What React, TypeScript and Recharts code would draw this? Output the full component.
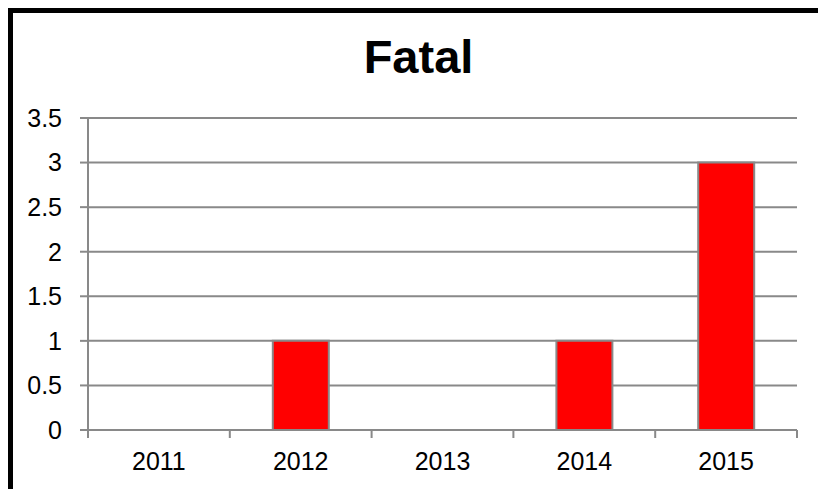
import React from 'react';
import { BarChart, Bar, XAxis, YAxis, CartesianGrid } from 'recharts';

const years = ['2011', '2012', '2013', '2014', '2015'];
const fatalValues = [0, 1, 0, 1, 3];
const yTicks = [0, 0.5, 1, 1.5, 2, 2.5, 3, 3.5];
const title = 'Fatal';

const data = years.map((year, i) => ({ year, fatal: fatalValues[i] }));

const FONT = '"Liberation Sans", Arial, sans-serif';
const GRAY = '#898989';

const CategoryTick = (props: any) => {
  const { x, y, payload, index, visibleTicksCount } = props;
  const half = payload && typeof payload.offset === 'number' && payload.offset > 0 ? payload.offset : 70.9;
  const axisY = y - 22;
  const isLast = index === (visibleTicksCount ?? years.length) - 1;
  return (
    <g>
      <line x1={x - half} x2={x - half} y1={axisY} y2={axisY + 8} stroke={GRAY} strokeWidth={2} />
      {isLast && <line x1={x + half} x2={x + half} y1={axisY} y2={axisY + 8} stroke={GRAY} strokeWidth={2} />}
      <text x={x} y={y} dy="0.71em" textAnchor="middle" fill="#000" fontSize={25} fontFamily={FONT}>
        {payload.value}
      </text>
    </g>
  );
};

export default function App() {
  return (
    <div style={{ position: 'fixed', left: 0, top: 0, width: 818, height: 489, overflow: 'hidden', background: '#fff' }}>
      <div
        style={{
          position: 'absolute',
          left: 8,
          top: 8,
          width: 840,
          height: 520,
          border: '5px solid #000',
          boxSizing: 'border-box',
        }}
      />
      <div style={{ position: 'absolute', left: 0, top: 0 }}>
        <BarChart
          width={818}
          height={489}
          data={data}
          margin={{ top: 118, right: 21, left: 0, bottom: 0 }}
          barSize={56}
        >
          <CartesianGrid vertical={false} stroke={GRAY} strokeWidth={2} />
          <XAxis
            dataKey="year"
            height={59}
            axisLine={{ stroke: GRAY, strokeWidth: 2 }}
            tickLine={false}
            tickSize={8}
            tickMargin={14}
            tick={<CategoryTick />}
            interval={0}
          />
          <YAxis
            width={88}
            domain={[0, 3.5]}
            ticks={yTicks}
            interval={0}
            axisLine={{ stroke: GRAY, strokeWidth: 2 }}
            tickLine={{ stroke: GRAY, strokeWidth: 2 }}
            tickSize={8}
            tickMargin={18}
            tick={{ fill: '#000', fontSize: 25, fontFamily: FONT }}
          />
          <Bar
            dataKey="fatal"
            fill="#FF0000"
            stroke={GRAY}
            strokeWidth={2}
            isAnimationActive={false}
          />
        </BarChart>
      </div>
      <svg style={{ position: 'absolute', left: 0, top: 0 }} width={818} height={100}>
        <text x={418.5} y={73} textAnchor="middle" fontFamily={FONT} fontWeight="bold" fontSize={47} fill="#000">
          {title}
        </text>
      </svg>
    </div>
  );
}
